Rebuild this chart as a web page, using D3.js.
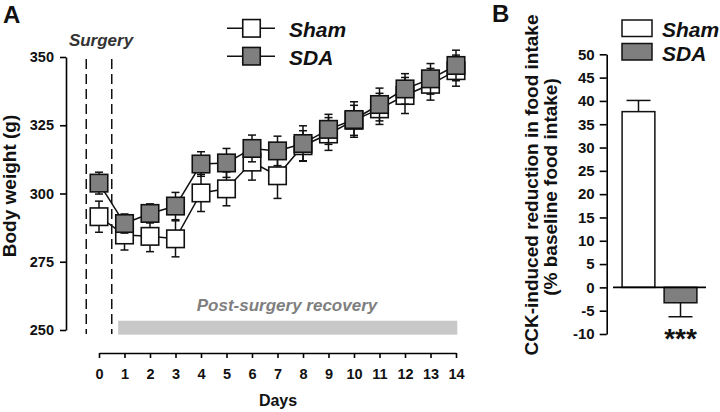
<!DOCTYPE html>
<html>
<head>
<meta charset="utf-8">
<script src="https://cdn.jsdelivr.net/npm/d3@7"></script>
<style>
  html, body { margin: 0; padding: 0; background: #fff; }
  svg { display: block; font-family: "Liberation Sans", Arial, Helvetica, sans-serif; }
</style>
</head>
<body>
<svg id="chart" width="720" height="412"></svg>
<script>
// ---------- Data ----------
const days = [0, 1, 2, 3, 4, 5, 6, 7, 8, 9, 10, 11, 12, 13, 14];
const shamMean = [291.5, 284.8, 284.3, 283.4, 300.2, 301.7, 311.5, 306.5, 317.5, 321.8, 326.8, 331.0, 335.9, 340.0, 345.0];
const shamErr  = [5.7, 5.5, 5.6, 6.6, 6.8, 6.2, 6.6, 8.3, 5.5, 6.0, 5.5, 5.7, 6.6, 5.8, 5.7];
const sdaMean  = [303.8, 289.0, 292.7, 295.4, 310.8, 311.2, 316.5, 315.6, 318.3, 323.5, 327.1, 332.6, 338.3, 342.0, 346.9];
const sdaErr   = [4.0, 3.5, 3.5, 5.0, 4.5, 5.3, 4.9, 5.4, 6.5, 5.5, 6.5, 6.0, 5.6, 5.6, 5.6];
const bodyWeightTicks = [250, 275, 300, 325, 350];
const surgeryDays = [-0.5, 0.5];
const recoveryRange = [0.75, 14.05];

const groups = ["Sham", "SDA"];
const cckMean = [37.7, -3.3];
const cckErr  = [2.4, 3.0];
const cckTicks = [-10, -5, 0, 5, 10, 15, 20, 25, 30, 35, 40, 45, 50];

// ---------- Setup ----------
const svg = d3.select("#chart");
const FONT = "'Liberation Sans', Arial, Helvetica, sans-serif";
const shamFill = "#ffffff", sdaFill = "#7f7f7f";
const plainFmt = d => String(d);

// ---------- Panel A ----------
const xA = d3.scaleLinear().domain([0, 14]).range([99, 456]);
const yA = d3.scaleLinear().domain([250, 350]).range([330, 57]);

const yAxisA = svg.append("g").attr("transform", "translate(66,0)")
  .call(d3.axisLeft(yA).tickValues(bodyWeightTicks).tickFormat(plainFmt).tickSize(6).tickPadding(6).tickSizeOuter(0));
const xAxisA = svg.append("g").attr("transform", "translate(0,353)")
  .call(d3.axisBottom(xA).tickValues(days).tickFormat(plainFmt).tickSize(5).tickPadding(11).tickSizeOuter(0));
[yAxisA, xAxisA].forEach(g => {
  g.select(".domain").attr("stroke", "#000").attr("stroke-width", 1.6);
  g.selectAll(".tick line").attr("stroke", "#000").attr("stroke-width", 1.6);
  g.selectAll(".tick text").attr("fill", "#111").attr("font-family", FONT)
    .attr("font-weight", "bold").attr("font-size", 14.5);
});

// surgery dashed lines
svg.append("g").selectAll("line").data(surgeryDays).join("line")
  .attr("x1", d => xA(d)).attr("x2", d => xA(d))
  .attr("y1", 59).attr("y2", 334)
  .attr("stroke", "#111").attr("stroke-width", 1.5).attr("stroke-dasharray", "10,5");

svg.append("text").attr("x", 101).attr("y", 46).attr("text-anchor", "middle")
  .attr("font-family", FONT).attr("font-weight", "bold").attr("font-style", "italic")
  .attr("font-size", 17).attr("fill", "#333").text("Surgery");

// recovery bar
svg.append("rect")
  .attr("x", xA(recoveryRange[0])).attr("width", xA(recoveryRange[1]) - xA(recoveryRange[0]))
  .attr("y", yA(253.4)).attr("height", yA(248.3) - yA(253.4))
  .attr("fill", "#c8c8c8");
svg.append("text").attr("x", 287).attr("y", 311).attr("text-anchor", "middle")
  .attr("font-family", FONT).attr("font-weight", "bold").attr("font-style", "italic")
  .attr("font-size", 17).attr("fill", "#7f7f7f").text("Post-surgery recovery");

// series
const SQ = 17.5;
function drawSeries(means, errs, fill) {
  const pts = days.map((d, i) => ({ d, m: means[i], e: errs[i] }));
  const g = svg.append("g");
  g.append("path").datum(pts)
    .attr("d", d3.line().x(p => xA(p.d)).y(p => yA(p.m)))
    .attr("fill", "none").attr("stroke", "#111").attr("stroke-width", 1.5);
  const eb = g.append("g").selectAll("g").data(pts).join("g");
  eb.append("line")
    .attr("x1", p => xA(p.d)).attr("x2", p => xA(p.d))
    .attr("y1", p => yA(p.m + p.e)).attr("y2", p => yA(p.m - p.e))
    .attr("stroke", "#111").attr("stroke-width", 1.5);
  [1, -1].forEach(s => {
    eb.append("line")
      .attr("x1", p => xA(p.d) - 4).attr("x2", p => xA(p.d) + 4)
      .attr("y1", p => yA(p.m + s * p.e)).attr("y2", p => yA(p.m + s * p.e))
      .attr("stroke", "#111").attr("stroke-width", 1.5);
  });
  g.append("g").selectAll("rect").data(pts).join("rect")
    .attr("x", p => xA(p.d) - SQ / 2).attr("y", p => yA(p.m) - SQ / 2)
    .attr("width", SQ).attr("height", SQ)
    .attr("fill", fill).attr("stroke", "#111").attr("stroke-width", 1.6);
}
drawSeries(shamMean, shamErr, shamFill);
drawSeries(sdaMean, sdaErr, sdaFill);

// legend A
const legA = svg.append("g");
[["Sham", shamFill, 28.3], ["SDA", sdaFill, 56.2]].forEach(([name, fill, cy]) => {
  legA.append("line").attr("x1", 227).attr("x2", 275).attr("y1", cy).attr("y2", cy)
    .attr("stroke", "#111").attr("stroke-width", 1.5);
  legA.append("rect").attr("x", 251.5 - SQ / 2).attr("y", cy - SQ / 2)
    .attr("width", SQ).attr("height", SQ).attr("fill", fill)
    .attr("stroke", "#111").attr("stroke-width", 1.6);
  legA.append("text").attr("x", 289).attr("y", cy + 8.3)
    .attr("font-family", FONT).attr("font-weight", "bold").attr("font-style", "italic")
    .attr("font-size", 21).attr("fill", "#111").text(name);
});

// titles A
svg.append("text").attr("transform", "translate(16,186) rotate(-90)")
  .attr("text-anchor", "middle").attr("font-family", FONT).attr("font-weight", "bold")
  .attr("font-size", 19).attr("fill", "#111").text("Body weight (g)");
svg.append("text").attr("x", 278).attr("y", 406).attr("text-anchor", "middle")
  .attr("font-family", FONT).attr("font-weight", "bold").attr("font-size", 16)
  .attr("fill", "#111").text("Days");
svg.append("text").attr("x", 3).attr("y", 23)
  .attr("font-family", FONT).attr("font-weight", "bold").attr("font-size", 24)
  .attr("fill", "#111").text("A");

// ---------- Panel B ----------
const yB = d3.scaleLinear().domain([-10, 50]).range([334, 54.3]);
const xB = d3.scaleBand().domain(groups).range([620, 699]).paddingInner(0.22).paddingOuter(0.05);

const yAxisB = svg.append("g").attr("transform", "translate(606.7,0)")
  .call(d3.axisLeft(yB).tickValues(cckTicks).tickFormat(plainFmt).tickSize(7).tickPadding(5).tickSizeOuter(0));
yAxisB.select(".domain").attr("stroke", "#000").attr("stroke-width", 1.6);
yAxisB.selectAll(".tick line").attr("stroke", "#000").attr("stroke-width", 1.6);
yAxisB.selectAll(".tick text").attr("fill", "#111").attr("font-family", FONT)
  .attr("font-weight", "bold").attr("font-size", 15);

const barData = groups.map((g, i) => ({ g, m: cckMean[i], e: cckErr[i], fill: i === 0 ? shamFill : sdaFill }));
const ebB = svg.append("g").selectAll("g").data(barData).join("g");
ebB.append("line")
  .attr("x1", d => xB(d.g) + xB.bandwidth() / 2).attr("x2", d => xB(d.g) + xB.bandwidth() / 2)
  .attr("y1", d => yB(d.m)).attr("y2", d => yB(d.m + Math.sign(d.m) * d.e))
  .attr("stroke", "#111").attr("stroke-width", 1.5);
ebB.append("line")
  .attr("x1", d => xB(d.g) + xB.bandwidth() / 2 - 12).attr("x2", d => xB(d.g) + xB.bandwidth() / 2 + 12)
  .attr("y1", d => yB(d.m + Math.sign(d.m) * d.e)).attr("y2", d => yB(d.m + Math.sign(d.m) * d.e))
  .attr("stroke", "#111").attr("stroke-width", 1.5);
svg.append("g").selectAll("rect").data(barData).join("rect")
  .attr("x", d => xB(d.g)).attr("width", xB.bandwidth())
  .attr("y", d => yB(Math.max(0, d.m))).attr("height", d => Math.abs(yB(d.m) - yB(0)))
  .attr("fill", d => d.fill).attr("stroke", "#111").attr("stroke-width", 1.5);
svg.append("line").attr("x1", 613).attr("x2", 706).attr("y1", yB(0)).attr("y2", yB(0))
  .attr("stroke", "#000").attr("stroke-width", 1.6);

svg.append("text").attr("x", xB("SDA") + xB.bandwidth() / 2).attr("y", 348)
  .attr("text-anchor", "middle").attr("font-family", FONT).attr("font-weight", "bold")
  .attr("font-size", 28).attr("fill", "#111").text("***");

// legend B
[["Sham", shamFill, 20, 36.5], ["SDA", sdaFill, 43.5, 60.5]].forEach(([name, fill, ry, ty]) => {
  svg.append("rect").attr("x", 622).attr("y", ry).attr("width", 30).attr("height", 16.5)
    .attr("fill", fill).attr("stroke", "#111").attr("stroke-width", 1.5);
  svg.append("text").attr("x", 662).attr("y", ty)
    .attr("font-family", FONT).attr("font-weight", "bold").attr("font-style", "italic")
    .attr("font-size", 21).attr("fill", "#111").text(name);
});

// titles B
svg.append("text").attr("transform", "translate(538,185) rotate(-90)")
  .attr("text-anchor", "middle").attr("font-family", FONT).attr("font-weight", "bold")
  .attr("font-size", 19).attr("fill", "#111").text("CCK-induced reduction in food intake");
svg.append("text").attr("transform", "translate(557,187) rotate(-90)")
  .attr("text-anchor", "middle").attr("font-family", FONT).attr("font-weight", "bold")
  .attr("font-size", 19).attr("fill", "#111").text("(% baseline food intake)");
svg.append("text").attr("x", 492).attr("y", 22)
  .attr("font-family", FONT).attr("font-weight", "bold").attr("font-size", 24)
  .attr("fill", "#111").text("B");
</script>
</body>
</html>
